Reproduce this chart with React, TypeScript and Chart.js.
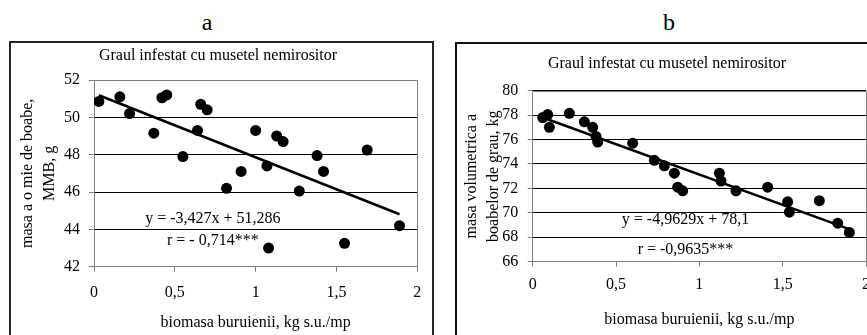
import React, { useEffect, useRef } from 'react';
import { Chart, registerables } from 'chart.js';

Chart.register(...registerables);

const FONT = '"Liberation Serif", "Times New Roman", serif';

// shared texts
const chartTitle = 'Graul infestat cu musetel nemirositor';
const xAxisTitle = 'biomasa buruienii, kg s.u./mp';
const xTickLabels = ['0', '0,5', '1', '1,5', '2'];

// panel a
const aBiomass = [0.03, 0.16, 0.22, 0.37, 0.42, 0.45, 0.55, 0.64, 0.66, 0.7, 0.82, 0.91, 1.0, 1.07, 1.08, 1.13, 1.17, 1.27, 1.38, 1.42, 1.55, 1.69, 1.89];
const aMMB = [50.85, 51.1, 50.2, 49.15, 51.05, 51.2, 47.9, 49.3, 50.7, 50.4, 46.2, 47.1, 49.3, 47.4, 43.0, 49.0, 48.7, 46.05, 47.95, 47.1, 43.25, 48.25, 44.2];
const aYTicks = ['42', '44', '46', '48', '50', '52'];
const aSlope = -3.427;
const aIntercept = 51.286;
const aEquation = 'y = -3,427x + 51,286';
const aCorrelation = 'r = - 0,714***';
const aYTitle = ['masa a o mie de boabe,', 'MMB, g'];

// panel b
const bBiomass = [0.06, 0.09, 0.1, 0.22, 0.31, 0.36, 0.38, 0.39, 0.6, 0.73, 0.79, 0.85, 0.87, 0.9, 1.12, 1.13, 1.22, 1.41, 1.53, 1.54, 1.72, 1.83, 1.9];
const bVolumetric = [77.8, 78.05, 77.0, 78.15, 77.45, 77.0, 76.25, 75.8, 75.7, 74.3, 73.85, 73.25, 72.1, 71.8, 73.25, 72.6, 71.8, 72.1, 70.9, 70.05, 71.0, 69.15, 68.4];
const bYTicks = ['66', '68', '70', '72', '74', '76', '78', '80'];
const bSlope = -4.9629;
const bIntercept = 78.1;
const bEquation = 'y = -4,9629x + 78,1';
const bCorrelation = 'r = -0,9635***';
const bYTitle = ['masa volumetrica a', 'boabelor de grau, kg'];

type PanelProps = {
  xs: number[];
  ys: number[];
  yTicks: string[];
  slope: number;
  intercept: number;
  equation: string;
  correlation: string;
  yTitle: string[];
  left: number;
  top: number;
  width: number;
  height: number;
  layout: { right: number; top: number };
  yWidth: number;
  xHeight: number;
  xTickPad: number;
  xTitlePad: number;
  yTitlePad: number;
  yTickPad: number;
  titlePos: { x: number; y: number };
  notePos: { x: number; yEq: number; yR: number };
};

function Panel(p: PanelProps) {
  const ref = useRef<HTMLCanvasElement | null>(null);
  useEffect(() => {
    if (!ref.current) return;
    const yMin = Number(p.yTicks[0]);
    const yMax = Number(p.yTicks[p.yTicks.length - 1]);
    const xMin = Math.min(...p.xs);
    const xMax = Math.max(...p.xs);
    const points = p.xs.map((x, i) => ({ x, y: p.ys[i] }));
    const trend = [
      { x: xMin, y: p.intercept + p.slope * xMin },
      { x: xMax, y: p.intercept + p.slope * xMax },
    ];
    const align = (v: number) => Math.round(v) + 0.5;
    const framePlugin = {
      id: 'frame',
      beforeDatasetsDraw(chart: any) {
        const { left, right, top, bottom } = chart.chartArea;
        const ctx = chart.ctx;
        ctx.save();
        ctx.strokeStyle = '#808080';
        ctx.lineWidth = 1;
        ctx.beginPath();
        ctx.moveTo(align(left), align(top));
        ctx.lineTo(align(right), align(top));
        ctx.lineTo(align(right), align(bottom));
        ctx.stroke();
        ctx.restore();
      },
    };
    const textPlugin = {
      id: 'panelText',
      afterDraw(chart: any) {
        const ctx = chart.ctx;
        const sx = chart.scales.x;
        const sy = chart.scales.y;
        ctx.save();
        ctx.fillStyle = '#000';
        ctx.textAlign = 'center';
        ctx.textBaseline = 'middle';
        ctx.font = `16px ${FONT}`;
        ctx.fillText(chartTitle, p.titlePos.x, p.titlePos.y);
        ctx.fillText(p.equation, sx.getPixelForValue(p.notePos.x), sy.getPixelForValue(p.notePos.yEq));
        ctx.fillText(p.correlation, sx.getPixelForValue(p.notePos.x), sy.getPixelForValue(p.notePos.yR));
        ctx.restore();
      },
    };
    const chart = new Chart(ref.current, {
      type: 'scatter',
      data: {
        datasets: [
          {
            data: trend,
            showLine: true,
            borderColor: '#000',
            borderWidth: 2.5,
            pointRadius: 0,
            fill: false,
          },
          {
            data: points,
            pointRadius: 5.5,
            pointHoverRadius: 5.5,
            backgroundColor: '#000',
            borderColor: '#000',
            borderWidth: 0,
          },
        ],
      },
      options: {
        animation: false,
        responsive: false,
        devicePixelRatio: 1,
        events: [],
        layout: { padding: { left: 0, right: p.layout.right, top: p.layout.top, bottom: 0 } },
        plugins: {
          legend: { display: false },
          tooltip: { enabled: false },
          title: { display: false },
        },
        scales: {
          x: {
            type: 'linear',
            min: 0,
            max: 2,
            afterFit: (s: any) => {
              s.height = p.xHeight;
            },
            ticks: {
              stepSize: 0.5,
              autoSkip: false,
              maxRotation: 0,
              padding: p.xTickPad,
              color: '#000',
              font: { family: FONT, size: 16 },
              callback: (_v: any, i: number) => xTickLabels[i],
            },
            grid: { drawOnChartArea: false, drawTicks: true, tickLength: 5, tickColor: '#808080', tickWidth: 1 },
            border: { display: true, color: '#808080', width: 1 },
            title: {
              display: true,
              text: xAxisTitle,
              color: '#000',
              font: { family: FONT, size: 16 },
              padding: { top: 0, bottom: p.xTitlePad },
            },
          },
          y: {
            type: 'linear',
            min: yMin,
            max: yMax,
            afterFit: (s: any) => {
              s.width = p.yWidth;
            },
            ticks: {
              stepSize: 2,
              autoSkip: false,
              padding: p.yTickPad,
              color: '#000',
              font: { family: FONT, size: 16 },
              callback: (_v: any, i: number) => p.yTicks[i],
            },
            grid: { color: '#000', lineWidth: 1, drawTicks: true, tickLength: 5, tickColor: '#808080', tickWidth: 1 },
            border: { display: true, color: '#808080', width: 1 },
            title: {
              display: true,
              text: p.yTitle,
              color: '#000',
              font: { family: FONT, size: 16, lineHeight: 1.36 },
              padding: { top: p.yTitlePad, bottom: 0 },
            },
          },
        },
      } as any,
      plugins: [framePlugin, textPlugin],
    });
    return () => chart.destroy();
  }, []);
  return (
    <canvas
      ref={ref}
      width={p.width}
      height={p.height}
      style={{ position: 'absolute', left: p.left, top: p.top, width: p.width, height: p.height, display: 'block' }}
    />
  );
}

export default function App() {
  return (
    <div
      style={{
        position: 'absolute',
        left: 0,
        top: 0,
        width: 867,
        height: 335,
        overflow: 'hidden',
        background: '#fff',
        fontFamily: FONT,
      }}
    >
      <div style={{ position: 'absolute', left: 192, top: 7, width: 30, textAlign: 'center', fontSize: 24, lineHeight: '30px', color: '#000' }}>a</div>
      <div style={{ position: 'absolute', left: 654, top: 7, width: 30, textAlign: 'center', fontSize: 24, lineHeight: '30px', color: '#000' }}>b</div>
      <div style={{ position: 'absolute', left: 9, top: 41, width: 421, height: 320, border: '2px solid #222' }} />
      <div style={{ position: 'absolute', left: 455, top: 42, width: 440, height: 320, border: '2px solid #111' }} />
      <Panel
        xs={aBiomass}
        ys={aMMB}
        yTicks={aYTicks}
        slope={aSlope}
        intercept={aIntercept}
        equation={aEquation}
        correlation={aCorrelation}
        yTitle={aYTitle}
        left={11}
        top={42}
        width={422}
        height={293}
        layout={{ right: 9.7, top: 38 }}
        yWidth={83}
        xHeight={68.3}
        xTickPad={11.7}
        xTitlePad={2.4}
        yTitlePad={6}
        yTickPad={9}
        titlePos={{ x: 207, y: 14 }}
        notePos={{ x: 0.735, yEq: 44.57, yR: 43.39 }}
      />
      <Panel
        xs={bBiomass}
        ys={bVolumetric}
        yTicks={bYTicks}
        slope={bSlope}
        intercept={bIntercept}
        equation={bEquation}
        correlation={bCorrelation}
        yTitle={bYTitle}
        left={456}
        top={43}
        width={423}
        height={292}
        layout={{ right: 13, top: 47.7 }}
        yWidth={76.7}
        xHeight={73.3}
        xTickPad={8.7}
        xTitlePad={5.4}
        yTitlePad={4.8}
        yTickPad={9.4}
        titlePos={{ x: 211, y: 20.3 }}
        notePos={{ x: 0.917, yEq: 69.41, yR: 67.01 }}
      />
    </div>
  );
}
